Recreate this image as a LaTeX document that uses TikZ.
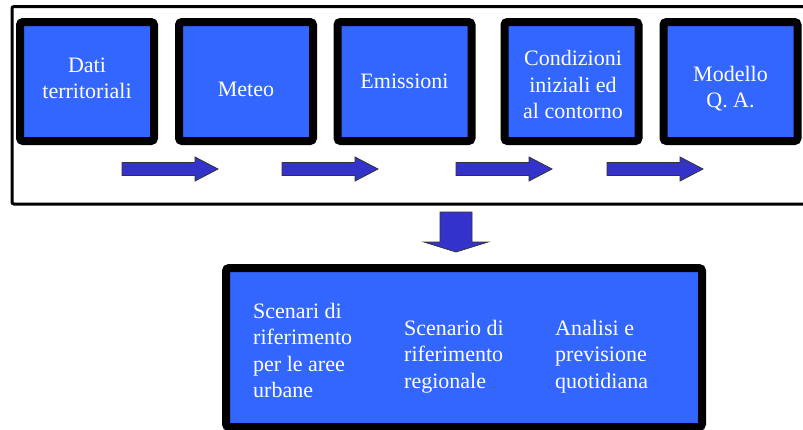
\documentclass[tikz,border=0pt]{standalone}
\usepackage{fontspec}
\setmainfont{Liberation Serif}
\newfontfamily\timesfont{Liberation Serif}
\definecolor{boxblue}{RGB}{51,102,255}
\definecolor{arrblue}{RGB}{51,51,204}
\newcommand{\rightblock}[1]{\filldraw[arr,shift={#1}] (0,-6.5) -- (73,-6.5) -- (73,-12) -- (96,0) -- (73,12) -- (73,6.5) -- (0,6.5) -- cycle;}
\begin{document}
\begin{tikzpicture}[x=1pt,y=-1pt,
	blk/.style={draw=black,line width=8pt,rounded corners=3pt,fill=boxblue,minimum width=134pt,minimum height=119pt,inner sep=0pt},
	txt/.style={text=white,font=\timesfont\fontsize{22}{26.5}\selectfont,align=center,inner sep=0pt},
	txtl/.style={text=white,font=\timesfont\fontsize{22}{26.5}\selectfont,align=left,inner sep=0pt,anchor=north west},
	arr/.style={fill=arrblue,draw=black!80,line width=0.8pt}]
	\useasboundingbox (0,0) rectangle (803,429);
	\clip (0,0) rectangle (803,429);
	\draw[line width=3pt,rounded corners=2pt] (12,6.5) rectangle (830,204);
	\node[blk] (dati) at (87,81.5) {};
	\node[blk] (meteo) at (246,81.5) {};
	\node[blk] (emis) at (404.5,81.5) {};
	\node[blk] (cond) at (571.5,81.5) {};
	\node[blk] (modello) at (730.5,81.5) {};
	\node[txt] (datiT) at (87,78.5) {Dati\\territoriali};
	\node[txt] (meteoT) at (246,89.8) {Meteo};
	\node[txt] (emisT) at (404.5,81.6) {Emissioni};
	\node[txt] (condT) at (573,84.8) {Condizioni\\iniziali ed\\al contorno};
	\node[txt] (modelloT) at (730.5,88.5) {Modello\\Q. A.};
	\rightblock{(122,169)}
	\rightblock{(282,169)}
	\rightblock{(456,169)}
	\rightblock{(607,169)}
	\filldraw[arr] (440,212) -- (472,212) -- (472,242) -- (488,242) -- (456,252) -- (424,242) -- (440,242) -- cycle;
	\node[blk,minimum width=476pt,minimum height=159pt] (scen) at (464,347.5) {};
	\node[txtl] (urbaneT) at (253,303) {Scenari di\\riferimento\\per le aree\\urbane};
	\node[txtl] (regionaleT) at (404,320) {Scenario di\\riferimento\\regionale};
	\node[txtl] (quotidianaT) at (555,320) {Analisi e\\previsione\\quotidiana};
\end{tikzpicture}
\end{document}
